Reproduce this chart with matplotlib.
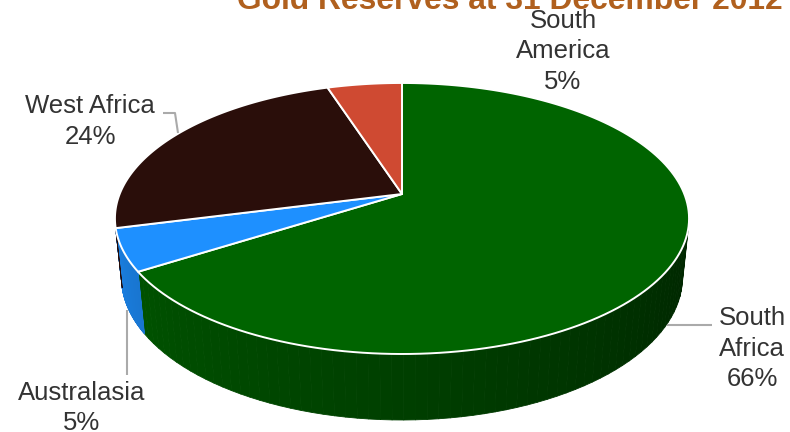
import math
import numpy as np
import matplotlib
matplotlib.use("Agg")
import matplotlib.pyplot as plt
from matplotlib.patches import Polygon
from matplotlib.collections import PolyCollection

# data
regions = ["South\nAfrica", "Australasia", "West Africa", "South\nAmerica"]
shares = [66, 5, 24, 5]
colors = ["#006400", "#1E90FF", "#2A0E0A", "#CF4A32"]
title = "Gold Reserves at 31 December 2012"

# label layout (x centre, first baseline) and leader lines, same order as data
label_xy = [(752, 325), (82, 400), (90, 113), (563, 28)]
leaders = [[(667, 325), (712, 325)],
           [(127, 310), (127, 375)],
           [(163, 113), (175, 113), (178, 133)],
           None]
line_gap = 30.5

# perspective set-up of the 3d pie
elev = math.asin(0.4643)
dist = 4.902
scale = 1384
cx, cy = 402, 194
depth = 0.2365

def project(x, y, z):
    d = dist + y * math.cos(elev) - z * math.sin(elev)
    sx = x / d
    sy = (y * math.sin(elev) + z * math.cos(elev)) / d
    return cx + scale * sx, cy - scale * sy

def shade(hexcol, f):
    r, g, b = matplotlib.colors.to_rgb(hexcol)
    return (r * f, g * f, b * f)

fig = plt.figure(figsize=(7.9, 4.32), dpi=100)
ax = fig.add_axes([0, 0, 1, 1])
ax.set_xlim(0, 790)
ax.set_ylim(432, 0)
ax.axis("off")

total = sum(shares)
bounds = []
start = 90.0
for v in shares:
    end = start - 360.0 * v / total
    bounds.append((start, end))
    start = end

# side walls
limit = -1.0 / (dist * math.cos(elev))
quads = []
qcols = []
for (a0, a1), col in zip(bounds, colors):
    th = np.linspace(a0, a1, 120)
    for t0, t1 in zip(th[:-1], th[1:]):
        tm = math.radians((t0 + t1) / 2)
        if math.sin(tm) > limit:
            continue
        r0, r1 = math.radians(t0), math.radians(t1)
        p = [project(math.cos(r0), math.sin(r0), 0),
             project(math.cos(r1), math.sin(r1), 0),
             project(math.cos(r1), math.sin(r1), -depth),
             project(math.cos(r0), math.sin(r0), -depth)]
        phi = math.degrees(tm) % 360
        f = 0.88 - 0.5 * (phi - 193) / (347 - 193)
        quads.append(p)
        qcols.append(shade(col, f))
ax.add_collection(PolyCollection(quads, facecolors=qcols, edgecolors=qcols,
                                 linewidths=0.6))

# top face
for (a0, a1), col in zip(bounds, colors):
    th = np.radians(np.linspace(a0, a1, 150))
    pts = [project(0, 0, 0)] + [project(math.cos(t), math.sin(t), 0) for t in th]
    ax.add_patch(Polygon(pts, closed=True, facecolor=col, edgecolor="white",
                         linewidth=1.4, joinstyle="round"))

# labels
for name, v, (lx, ly), lead in zip(regions, shares, label_xy, leaders):
    lines = name.split("\n") + ["%d%%" % v]
    for i, s in enumerate(lines):
        ax.text(lx, ly + i * line_gap, s, ha="center", va="baseline",
                fontsize=18.5, color="#333333", family="Liberation Sans")
    if lead:
        xs, ys = zip(*lead)
        ax.plot(xs, ys, color="#AAAAAA", lw=1.5, solid_capstyle="butt")

ax.text(783, 9, title, ha="right", va="baseline", fontsize=22.9,
        fontweight="bold", color="#B0601E", family="Liberation Sans")

fig.savefig("out.png", dpi=100)
